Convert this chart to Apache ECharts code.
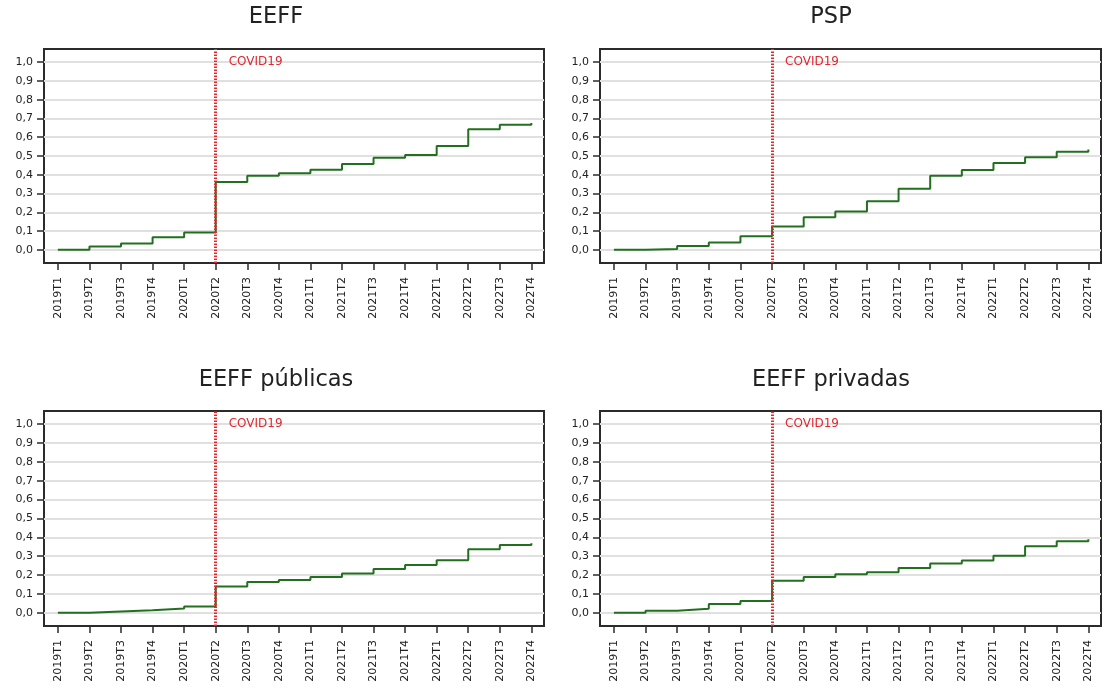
<!DOCTYPE html>
<html>
<head>
<meta charset="utf-8">
<script src="https://cdn.jsdelivr.net/npm/echarts@6/dist/echarts.min.js"></script>
<style>
html,body{margin:0;padding:0;background:#fff;}
#chart{width:1108px;height:694px;}
</style>
</head>
<body>
<div id="chart"></div>
<script>
const categories = ['2019T1','2019T2','2019T3','2019T4','2020T1','2020T2','2020T3','2020T4','2021T1','2021T2','2021T3','2021T4','2022T1','2022T2','2022T3','2022T4'];
const eeff = [0.000,0.018,0.034,0.067,0.092,0.362,0.395,0.408,0.427,0.457,0.491,0.505,0.553,0.642,0.667,0.676];
const psp = [0.000,0.004,0.020,0.039,0.073,0.124,0.174,0.204,0.259,0.326,0.395,0.426,0.463,0.493,0.523,0.534];
const eeffPublicas = [0.000,0.007,0.014,0.023,0.034,0.140,0.163,0.174,0.190,0.209,0.232,0.254,0.278,0.337,0.360,0.369];
const eeffPrivadas = [0.000,0.011,0.021,0.046,0.062,0.170,0.190,0.204,0.215,0.238,0.262,0.277,0.303,0.353,0.379,0.390];
const yTicks = [0,0.1,0.2,0.3,0.4,0.5,0.6,0.7,0.8,0.9,1.0];
const titles = ['EEFF','PSP','EEFF públicas','EEFF privadas'];
const covidIndex = 5;
const covidLabel = 'COVID19';
const covidLabelLevel = 1.0;

const seriesList = [eeff, psp, eeffPublicas, eeffPrivadas];
const FONT = '"DejaVu Sans", Verdana, sans-serif';
const panels = [
  {left: 44, top: 49, width: 500, height: 214, titleX: 276, titleY: 17},
  {left: 600, top: 49, width: 501, height: 214, titleX: 831, titleY: 17},
  {left: 44, top: 411, width: 500, height: 215, titleX: 276, titleY: 380},
  {left: 600, top: 411, width: 501, height: 215, titleX: 831, titleY: 380}
];

const grid = [], xAxis = [], yAxis = [], series = [], graphic = [];
const xTicks = categories.map((c, i) => i);

panels.forEach((p, k) => {
  grid.push({left: p.left, top: p.top, width: p.width, height: p.height, show: true,
    borderColor: '#2b2b2b', borderWidth: 2, backgroundColor: '#fff', containLabel: false});
  xAxis.push({
    type: 'value', gridIndex: k, min: -0.44, max: categories.length - 1 + 0.4,
    axisLine: {show: false, onZero: false},
    axisTick: {show: true, customValues: xTicks, length: 7, lineStyle: {color: '#2b2b2b', width: 1.5}},
    axisLabel: {show: true, customValues: xTicks, rotate: 90, margin: 14, fontSize: 11, color: '#222', fontFamily: FONT,
      formatter: v => categories[Math.round(v)]},
    splitLine: {show: false}
  });
  yAxis.push({
    type: 'value', gridIndex: k, min: -0.07, max: 1.07,
    axisLine: {show: false, onZero: false},
    axisTick: {show: true, customValues: yTicks, length: 7, lineStyle: {color: '#2b2b2b', width: 1.5}},
    axisLabel: {show: true, customValues: yTicks, margin: 11, fontSize: 11, color: '#222', fontFamily: FONT,
      formatter: v => v.toFixed(1).replace('.', ',')},
    splitLine: {show: true, lineStyle: {color: '#e0e0e0', width: 1.8}}
  });
  series.push({
    type: 'line', xAxisIndex: k, yAxisIndex: k, step: 'end', symbol: 'none', z: 2,
    lineStyle: {color: '#22701f', width: 2},
    data: seriesList[k].map((v, i) => [i, v]),
    silent: true, animation: false
  });
  series.push({
    type: 'line', xAxisIndex: k, yAxisIndex: k, data: [], z: 3, silent: true, animation: false,
    markLine: {
      silent: true, symbol: 'none', animation: false,
      lineStyle: {color: '#e0282e', width: 3, type: [1.5, 1.5]},
      label: {show: false},
      data: [{xAxis: covidIndex}]
    },
    markPoint: {
      silent: true, symbol: 'circle', symbolSize: 0, animation: false,
      label: {show: true, position: 'right', distance: 13, formatter: covidLabel,
        color: '#e0282e', fontSize: 12, fontFamily: FONT},
      data: [{coord: [covidIndex, covidLabelLevel]}]
    }
  });
  graphic.push({type: 'text', x: p.titleX, y: p.titleY,
    style: {text: titles[k], fontSize: 22.5, fontFamily: FONT, fill: '#222', align: 'center', verticalAlign: 'middle'}});
});

const chart = echarts.init(document.getElementById('chart'), null, {renderer: 'canvas'});
chart.setOption({animation: false, backgroundColor: '#fff', grid, xAxis, yAxis, series, graphic});
</script>
</body>
</html>
